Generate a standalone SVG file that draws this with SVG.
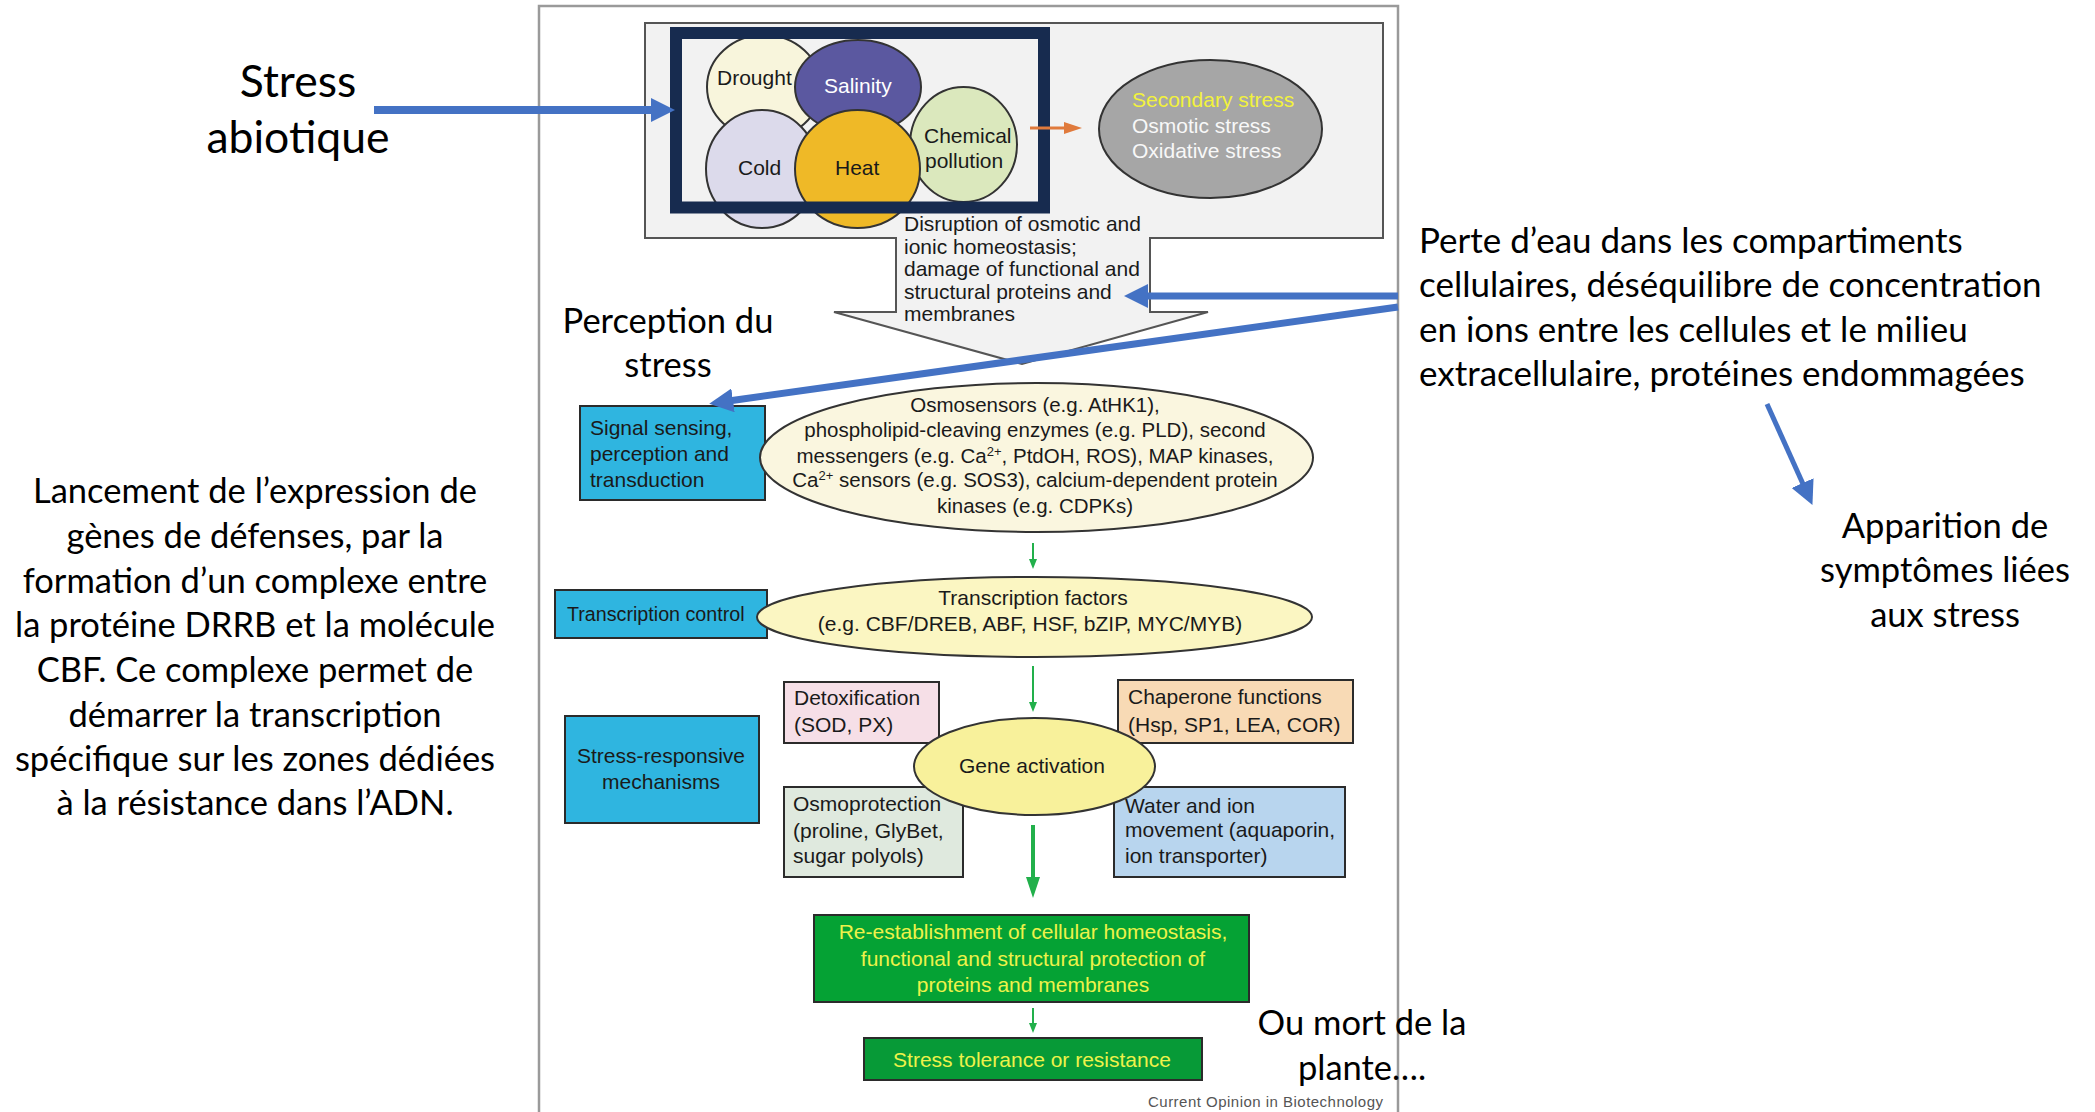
<svg xmlns="http://www.w3.org/2000/svg" width="2095" height="1112" viewBox="0 0 2095 1112">
  <style>
    .fig { font-family: "Liberation Sans", Arial, sans-serif; font-size: 21px; fill: #1a1a1a; }
    .sm { font-size: 20.5px; }
    .note { font-family: Lato, "Open Sans", sans-serif; font-size: 34.5px; fill: #000; }
    .box { stroke: #2b2b2b; stroke-width: 2; }
    .circ { stroke: #333; stroke-width: 2; }
    .blue { stroke: #4472C4; fill: none; }
    .green { stroke: #22b04b; fill: none; }
  </style>
  <defs>
    <marker id="blueHead" viewBox="0 0 24 24" markerWidth="24" markerHeight="24" refX="1" refY="12" orient="auto" markerUnits="userSpaceOnUse">
      <path d="M0,0 L24,12 L0,24 z" fill="#4472C4"/>
    </marker>
    <marker id="greenSmall" viewBox="0 0 10 8" markerWidth="10" markerHeight="8" refX="1" refY="4" orient="auto" markerUnits="userSpaceOnUse">
      <path d="M0,0 L10,4 L0,8 z" fill="#22b04b"/>
    </marker>
    <marker id="greenBig" viewBox="0 0 21 14" markerWidth="21" markerHeight="14" refX="1" refY="7" orient="auto" markerUnits="userSpaceOnUse">
      <path d="M0,0 L21,7 L0,14 z" fill="#22b04b"/>
    </marker>
    <marker id="orangeHead" viewBox="0 0 18 12" markerWidth="18" markerHeight="12" refX="1" refY="6" orient="auto" markerUnits="userSpaceOnUse">
      <path d="M0,0 L18,6 L0,12 z" fill="#e07a3c"/>
    </marker>
  </defs>

  <rect width="2095" height="1112" fill="#ffffff"/>

  <!-- figure frame -->
  <g id="figure-frame">
    <rect x="539" y="6" width="859" height="1125" fill="#ffffff" stroke="#9a9a9a" stroke-width="2.5"/>
  </g>

  <!-- stress panel with the big downward arrow -->
  <g id="stress-panel">
    <path d="M645,23 L1383,23 L1383,238 L1150,238 L1150,312 L1208,312 L1022,364 L834,312 L896,312 L896,238 L645,238 Z" fill="#f2f2f2" stroke="#555" stroke-width="2"/>
    <text class="fig" x="904" y="231">Disruption of osmotic and</text>
    <text class="fig" x="904" y="253.5">ionic homeostasis;</text>
    <text class="fig" x="904" y="276">damage of functional and</text>
    <text class="fig" x="904" y="298.5">structural proteins and</text>
    <text class="fig" x="904" y="321">membranes</text>
  </g>

  <g id="stress-circles">
    <ellipse class="circ" cx="764" cy="87" rx="57" ry="52" fill="#f8f5dc"/>
    <ellipse class="circ" cx="963.5" cy="144.5" rx="53.5" ry="57.5" fill="#dbe8bd"/>
    <ellipse class="circ" cx="858" cy="87" rx="63" ry="47" fill="#5b58a0"/>
    <ellipse class="circ" cx="762" cy="169" rx="56" ry="59" fill="#dcdaeb"/>
    <ellipse class="circ" cx="857.5" cy="169" rx="62.5" ry="59" fill="#efb927"/>
    <text class="fig" x="717" y="85">Drought</text>
    <text class="fig" x="824" y="93" style="fill:#ffffff">Salinity</text>
    <text class="fig" x="738" y="175">Cold</text>
    <text class="fig" x="835" y="175">Heat</text>
    <text class="fig" x="924" y="143">Chemical</text>
    <text class="fig" x="925" y="168">pollution</text>
  </g>

  <!-- highlight frame around the primary stresses -->
  <g id="abiotic-frame">
    <rect x="676" y="33" width="368" height="174.5" fill="none" stroke="#172b4f" stroke-width="12"/>
  </g>

  <g id="secondary-stress">
    <ellipse class="circ" cx="1210.5" cy="129" rx="111.5" ry="69" fill="#a6a6a6"/>
    <text class="fig" x="1132" y="107" style="fill:#f2f23c">Secondary stress</text>
    <text class="fig" x="1132" y="133" style="fill:#f8f8f8">Osmotic stress</text>
    <text class="fig" x="1132" y="158" style="fill:#f8f8f8">Oxidative stress</text>
  </g>

  <g id="signal-sensing">
    <rect class="box" x="580" y="406" width="185" height="94" fill="#2fb5e0"/>
    <text class="fig" x="590" y="435">Signal sensing,</text>
    <text class="fig" x="590" y="461">perception and</text>
    <text class="fig" x="590" y="487">transduction</text>
  </g>

  <g id="osmosensors">
    <ellipse class="circ" cx="1036.5" cy="457.5" rx="276.5" ry="74.5" fill="#faf6df"/>
    <text class="fig sm" text-anchor="middle" x="1035" y="412">Osmosensors (e.g. AtHK1),</text>
    <text class="fig sm" text-anchor="middle" x="1035" y="437">phospholipid-cleaving enzymes (e.g. PLD), second</text>
    <text class="fig sm" text-anchor="middle" x="1035" y="463">messengers (e.g. Ca<tspan dy="-7" font-size="13">2+</tspan><tspan dy="7">, PtdOH, ROS), MAP kinases,</tspan></text>
    <text class="fig sm" text-anchor="middle" x="1035" y="487">Ca<tspan dy="-7" font-size="13">2+</tspan><tspan dy="7"> sensors (e.g. SOS3), calcium-dependent protein</tspan></text>
    <text class="fig sm" text-anchor="middle" x="1035" y="513">kinases (e.g. CDPKs)</text>
  </g>

  <g id="transcription-control">
    <rect class="box" x="555" y="590" width="212" height="48" fill="#2fb5e0"/>
    <text class="fig" x="567" y="621" style="font-size:19.7px">Transcription control</text>
  </g>

  <g id="transcription-factors">
    <ellipse class="circ" cx="1034.5" cy="617" rx="277.5" ry="40" fill="#fbf6c2"/>
    <text class="fig" text-anchor="middle" x="1033" y="605">Transcription factors</text>
    <text class="fig" text-anchor="middle" x="1030" y="631">(e.g. CBF/DREB, ABF, HSF, bZIP, MYC/MYB)</text>
  </g>

  <g id="stress-responsive">
    <rect class="box" x="565" y="716" width="194" height="107" fill="#2fb5e0"/>
    <text class="fig" text-anchor="middle" x="661" y="763">Stress-responsive</text>
    <text class="fig" text-anchor="middle" x="661" y="789">mechanisms</text>
  </g>

  <g id="detoxification">
    <rect class="box" x="784" y="682" width="155" height="61" fill="#f6dfe7"/>
    <text class="fig" x="794" y="705">Detoxification</text>
    <text class="fig" x="794" y="732">(SOD, PX)</text>
  </g>

  <g id="chaperone">
    <rect class="box" x="1118" y="680" width="235" height="63" fill="#f8dab5"/>
    <text class="fig" x="1128" y="704">Chaperone functions</text>
    <text class="fig" x="1128" y="732">(Hsp, SP1, LEA, COR)</text>
  </g>

  <g id="osmoprotection">
    <rect class="box" x="784" y="787" width="179" height="90" fill="#dfe9de"/>
    <text class="fig" x="793" y="811">Osmoprotection</text>
    <text class="fig" x="793" y="838">(proline, GlyBet,</text>
    <text class="fig" x="793" y="863">sugar polyols)</text>
  </g>

  <g id="water-ion">
    <rect class="box" x="1114" y="787" width="231" height="90" fill="#b8d5ee"/>
    <text class="fig" x="1125" y="813">Water and ion</text>
    <text class="fig" x="1125" y="837">movement (aquaporin,</text>
    <text class="fig" x="1125" y="863">ion transporter)</text>
  </g>

  <g id="gene-activation">
    <ellipse class="circ" cx="1034.5" cy="766.5" rx="120.5" ry="48.5" fill="#f8f19b"/>
    <text class="fig" text-anchor="middle" x="1032" y="773">Gene activation</text>
  </g>

  <g id="homeostasis">
    <rect class="box" x="814" y="915" width="435" height="87" fill="#05a234"/>
    <text class="fig" text-anchor="middle" x="1033" y="939" style="fill:#eef24a">Re-establishment of cellular homeostasis,</text>
    <text class="fig" text-anchor="middle" x="1033" y="966" style="fill:#eef24a">functional and structural protection of</text>
    <text class="fig" text-anchor="middle" x="1033" y="992" style="fill:#eef24a">proteins and membranes</text>
  </g>

  <g id="tolerance">
    <rect class="box" x="864" y="1038" width="338" height="42" fill="#079a37"/>
    <text class="fig" text-anchor="middle" x="1032" y="1067" style="fill:#eef24a">Stress tolerance or resistance</text>
  </g>

  <g id="source-credit">
    <text x="1148" y="1107" textLength="235" style="font-family:'Liberation Sans',Arial,sans-serif;font-size:15px;fill:#555">Current Opinion in Biotechnology</text>
  </g>

  <!-- annotations -->
  <g id="label-stress-abiotique">
    <text class="note" text-anchor="middle" x="298" y="97" style="font-size:44.5px">Stress</text>
    <text class="note" text-anchor="middle" x="298" y="153" style="font-size:44.5px">abiotique</text>
  </g>

  <g id="label-perception">
    <text class="note" text-anchor="middle" x="668" y="333">Perception du</text>
    <text class="note" text-anchor="middle" x="668" y="377">stress</text>
  </g>

  <g id="label-perte">
    <text class="note" x="1419" y="253" style="font-size:35px">Perte d’eau dans les compartiments</text>
    <text class="note" x="1419" y="297" style="font-size:35px">cellulaires, déséquilibre de concentration</text>
    <text class="note" x="1419" y="342" style="font-size:35px">en ions entre les cellules et le milieu</text>
    <text class="note" x="1419" y="386" style="font-size:35px">extracellulaire, protéines endommagées</text>
  </g>

  <g id="label-apparition">
    <text class="note" text-anchor="middle" x="1945" y="538">Apparition de</text>
    <text class="note" text-anchor="middle" x="1945" y="582">symptômes liées</text>
    <text class="note" text-anchor="middle" x="1945" y="627">aux stress</text>
  </g>

  <g id="label-lancement">
    <text class="note" text-anchor="middle" x="255" y="503">Lancement de l’expression de</text>
    <text class="note" text-anchor="middle" x="255" y="548">gènes de défenses, par la</text>
    <text class="note" text-anchor="middle" x="255" y="593">formation d’un complexe entre</text>
    <text class="note" text-anchor="middle" x="255" y="637">la protéine DRRB et la molécule</text>
    <text class="note" text-anchor="middle" x="255" y="682">CBF. Ce complexe permet de</text>
    <text class="note" text-anchor="middle" x="255" y="727">démarrer la transcription</text>
    <text class="note" text-anchor="middle" x="255" y="771">spécifique sur les zones dédiées</text>
    <text class="note" text-anchor="middle" x="255" y="815">à la résistance dans l’ADN.</text>
  </g>

  <g id="label-mort">
    <text class="note" text-anchor="middle" x="1362" y="1035">Ou mort de la</text>
    <text class="note" text-anchor="middle" x="1362" y="1080">plante….</text>
  </g>

  <!-- connectors -->
  <g id="connectors">
    <line class="blue" x1="374" y1="110" x2="652" y2="110" stroke-width="8" marker-end="url(#blueHead)"/>
    <line class="blue" x1="1398" y1="296" x2="1147" y2="296" stroke-width="7" marker-end="url(#blueHead)"/>
    <line class="blue" x1="1398" y1="307" x2="732" y2="400.5" stroke-width="7" marker-end="url(#blueHead)"/>
    <line class="blue" x1="1767" y1="404" x2="1803" y2="484" stroke-width="5" marker-end="url(#blueHead)"/>
    <line x1="1030" y1="128" x2="1065" y2="128" stroke="#e07a3c" stroke-width="3" marker-end="url(#orangeHead)"/>
    <line class="green" x1="1033" y1="543" x2="1033" y2="560" stroke-width="2" marker-end="url(#greenSmall)"/>
    <line class="green" x1="1033" y1="666" x2="1033" y2="703" stroke-width="2" marker-end="url(#greenSmall)"/>
    <line class="green" x1="1033" y1="825" x2="1033" y2="878" stroke-width="4" marker-end="url(#greenBig)"/>
    <line class="green" x1="1033" y1="1008" x2="1033" y2="1024" stroke-width="2" marker-end="url(#greenSmall)"/>
  </g>
</svg>
